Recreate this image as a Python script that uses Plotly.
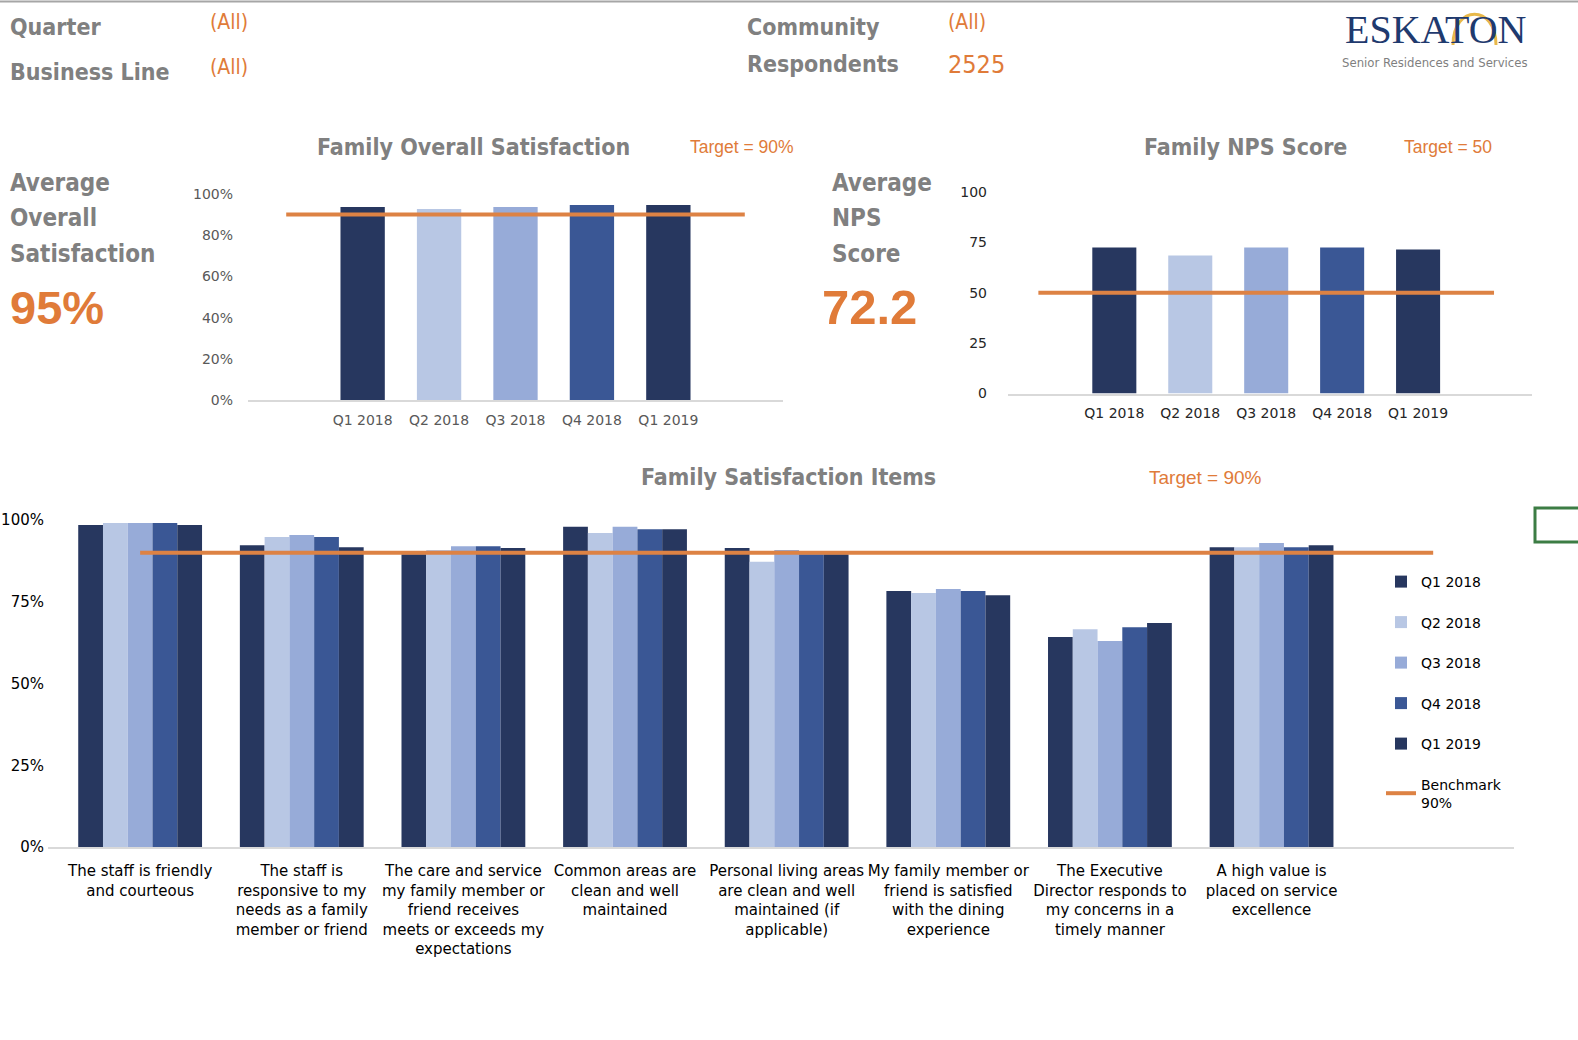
import plotly.graph_objects as go

# ---------------- data ----------------
quarters = ["Q1 2018", "Q2 2018", "Q3 2018", "Q4 2018", "Q1 2019"]
quarter_colors = ["#27375f", "#b8c7e4", "#97abd8", "#3a5795", "#27375f"]

overall_sat = [0.937, 0.927, 0.937, 0.946, 0.946]
overall_target = 0.90

nps_scores = [72.5, 68.5, 72.5, 72.5, 71.5]
nps_target = 50

items = [
    "The staff is friendly<br>and courteous",
    "The staff is<br>responsive to my<br>needs as a family<br>member or friend",
    "The care and service<br>my family member or<br>friend receives<br>meets or exceeds my<br>expectations",
    "Common areas are<br>clean and well<br>maintained",
    "Personal living areas<br>are clean and well<br>maintained (if<br>applicable)",
    "My family member or<br>friend is satisfied<br>with the dining<br>experience",
    "The Executive<br>Director responds to<br>my concerns in a<br>timely manner",
    "A high value is<br>placed on service<br>excellence",
]
item_q1_2018 = [0.985, 0.923, 0.895, 0.979, 0.914, 0.783, 0.642, 0.917]
item_q2_2018 = [0.991, 0.948, 0.908, 0.960, 0.872, 0.777, 0.666, 0.917]
item_q3_2018 = [0.991, 0.954, 0.920, 0.979, 0.908, 0.789, 0.630, 0.930]
item_q4_2018 = [0.991, 0.948, 0.920, 0.972, 0.895, 0.783, 0.672, 0.917]
item_q1_2019 = [0.985, 0.917, 0.914, 0.972, 0.895, 0.770, 0.685, 0.923]
item_series = [item_q1_2018, item_q2_2018, item_q3_2018, item_q4_2018, item_q1_2019]
item_target = 0.90

pct_ticks = [0, 0.2, 0.4, 0.6, 0.8, 1.0]
nps_ticks = [0, 25, 50, 75, 100]
item_ticks = [0, 0.25, 0.5, 0.75, 1.0]

avg_overall = "95%"
avg_nps = "72.2"
respondents = "2525"

# ---------------- helpers ----------------
W, H = 1578, 1040
def px(x):
    return x / W
def py(y):
    return 1 - y / H

ORANGE = "#e07b39"
LINE_ORANGE = "#dd8244"
GRAY = "#808080"
NARROW = "DejaVu Sans Condensed, Liberation Sans Narrow, sans-serif"
SANS = "Liberation Sans, Arial, sans-serif"
DEJA = "DejaVu Sans, sans-serif"

fig = go.Figure()

# Chart 1: Family overall satisfaction
fig.add_trace(go.Bar(x=list(range(len(quarters))), y=overall_sat, width=0.58,
                     marker=dict(color=quarter_colors, line=dict(width=0)),
                     showlegend=False, xaxis="x", yaxis="y"))
fig.add_trace(go.Scatter(x=[-1, len(quarters)], y=[overall_target] * 2, mode="lines",
                         line=dict(color=LINE_ORANGE, width=4), showlegend=False,
                         xaxis="x", yaxis="y"))

# Chart 2: Family NPS
fig.add_trace(go.Bar(x=list(range(len(quarters))), y=nps_scores, width=0.58,
                     marker=dict(color=quarter_colors, line=dict(width=0)),
                     showlegend=False, xaxis="x2", yaxis="y2"))
fig.add_trace(go.Scatter(x=[-1, len(quarters)], y=[nps_target] * 2, mode="lines",
                         line=dict(color=LINE_ORANGE, width=4), showlegend=False,
                         xaxis="x2", yaxis="y2"))

# Chart 3: Family satisfaction items
for i, q in enumerate(quarters):
    fig.add_trace(go.Bar(x=list(range(len(items))), y=item_series[i], name=q,
                         marker=dict(color=quarter_colors[i], line=dict(width=0)),
                         legendgroup=q, xaxis="x3", yaxis="y3"))
fig.add_trace(go.Scatter(x=[0, len(items)], y=[item_target] * 2, mode="lines",
                         name="Benchmark<br>90%", legendgroup="bench",
                         line=dict(color=LINE_ORANGE, width=4), xaxis="x3", yaxis="y3"))

tick_font_gray = dict(family=DEJA, size=14, color="#595959")
tick_font_dark = dict(family=DEJA, size=14, color="#262626")

fig.update_layout(
    template="none",
    width=W, height=H, autosize=False,
    margin=dict(l=0, r=0, t=0, b=0, pad=0),
    paper_bgcolor="white", plot_bgcolor="white",
    barmode="group", bargap=0.234, bargroupgap=0,
    xaxis=dict(domain=[px(248), px(783)], range=[-1.5, 5.5], anchor="y", automargin=False,
               tickvals=list(range(len(quarters))), ticktext=quarters,
               showgrid=False, zeroline=False, showline=True, linecolor="#d9d9d9",
               linewidth=2, ticks="", tickfont=tick_font_gray, ticklabelstandoff=6),
    yaxis=dict(domain=[py(400), py(194)], range=[0, 1], anchor="x", automargin=False,
               tickvals=pct_ticks, tickformat=".0%", showgrid=False, zeroline=False,
               showline=False, ticks="", tickfont=tick_font_gray, ticklabelstandoff=14),
    xaxis2=dict(domain=[px(1008), px(1532)], range=[-1.4, 5.5], anchor="y2", automargin=False,
                tickvals=list(range(len(quarters))), ticktext=quarters,
                showgrid=False, zeroline=False, showline=True, linecolor="#d9d9d9",
                linewidth=2, ticks="", tickfont=tick_font_dark, ticklabelstandoff=6),
    yaxis2=dict(domain=[py(393.5), py(192)], range=[0, 100], anchor="x2", automargin=False,
                tickvals=nps_ticks, showgrid=False, zeroline=False, showline=False,
                ticks="", tickfont=tick_font_dark, ticklabelstandoff=20),
    xaxis3=dict(domain=[px(48), px(1514)], range=[-0.57, 8.5], anchor="y3", automargin=False,
                tickvals=list(range(len(items))), ticktext=items,
                showgrid=False, zeroline=False, showline=True, linecolor="#d9d9d9",
                linewidth=2, ticks="", ticklabelstandoff=9,
                tickfont=dict(family=DEJA, size=15, color="#000000")),
    yaxis3=dict(domain=[py(847), py(520)], range=[0, 1], anchor="x3", automargin=False,
                tickvals=item_ticks, tickformat=".0%", showgrid=False, zeroline=False,
                showline=False, ticks="", ticklabelstandoff=3,
                tickfont=dict(family=DEJA, size=15, color="#000000")),
    legend=dict(x=px(1381), y=py(566), xanchor="left", yanchor="top",
                font=dict(family=DEJA, size=14, color="#000000"),
                tracegroupgap=19.3, itemwidth=30, bgcolor="rgba(0,0,0,0)", borderwidth=0),
    showlegend=True,
)

ann = []
def text(x, y, s, size, color, family=NARROW, bold=False, anchor="left"):
    ann.append(dict(x=px(x), y=py(y), xref="paper", yref="paper", text=("<b>%s</b>" % s) if bold else s,
                    showarrow=False, xanchor=anchor, yanchor="middle",
                    font=dict(family=family, size=size, color=color)))

# Header filters
text(8, 27, "Quarter", 23, GRAY, bold=True)
text(208, 22, "(All)", 21, ORANGE)
text(8, 72, "Business Line", 23, GRAY, bold=True)
text(208, 67, "(All)", 21, ORANGE)
text(745, 27, "Community", 23, GRAY, bold=True)
text(946, 22, "(All)", 21, ORANGE)
text(745, 64, "Respondents", 23, GRAY, bold=True)
text(946, 64, respondents, 25, ORANGE)

# Logo
text(1436, 29, "ESKATON", 40, "#1f3a6e", family="Liberation Serif, serif", anchor="center")
text(1435, 62, "Senior Residences and Services", 13, "#7f7f7f", anchor="center")

# Left KPI
text(8, 183, "Average", 24, GRAY, bold=True)
text(8, 218, "Overall", 24, GRAY, bold=True)
text(8, 254, "Satisfaction", 24, GRAY, bold=True)
text(8, 307, avg_overall, 47, ORANGE, family=SANS, bold=True)

# Middle KPI
text(830, 183, "Average", 24, GRAY, bold=True)
text(830, 218, "NPS", 24, GRAY, bold=True)
text(830, 254, "Score", 24, GRAY, bold=True)
text(820, 307, avg_nps, 49, ORANGE, family=SANS, bold=True)

# Chart titles
text(473, 147, "Family Overall Satisfaction", 23, GRAY, bold=True, anchor="center")
text(742, 147, "Target = 90%", 17.5, ORANGE, family=SANS, anchor="center")
text(1245, 147, "Family NPS Score", 23, GRAY, bold=True, anchor="center")
text(1448, 147, "Target = 50", 17.5, ORANGE, family=SANS, anchor="center")
text(788, 477, "Family Satisfaction Items", 23, GRAY, bold=True, anchor="center")
text(1205, 478, "Target = 90%", 19, ORANGE, family=SANS, anchor="center")

fig.update_layout(annotations=ann)

shapes = [
    dict(type="line", xref="paper", yref="paper", x0=0, x1=1, y0=py(1.5), y1=py(1.5),
         line=dict(color="#a6a6a6", width=2)),
    dict(type="rect", xref="paper", yref="paper", x0=px(1535), x1=px(1600),
         y0=py(508), y1=py(542), line=dict(color="#3c7d44", width=3)),
    # gold arch of logo
    dict(type="path", xref="paper", yref="paper",
         path="M %f,%f C %f,%f %f,%f %f,%f" % (px(1453), py(45), px(1453), py(4),
                                              px(1496), py(4), px(1496), py(45)),
         line=dict(color="#e8b84a", width=3)),
]
fig.update_layout(shapes=shapes)

fig.write_html("out.html", config={"displayModeBar": False},
               post_script="document.body.style.margin='0px';")
